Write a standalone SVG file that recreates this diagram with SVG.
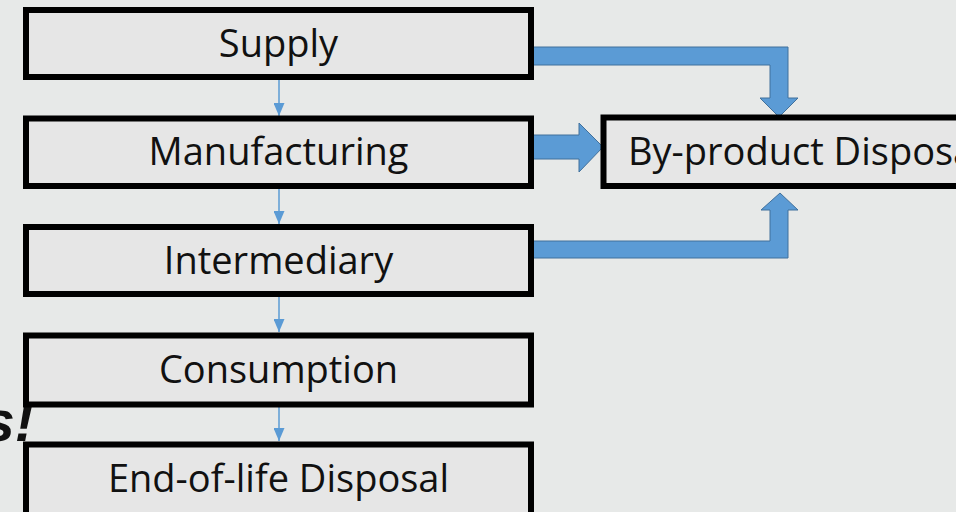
<svg xmlns="http://www.w3.org/2000/svg" width="956" height="512" viewBox="0 0 956 512">
<defs>
<style>
.box{fill:#E6E6E6;stroke:#000;stroke-width:6}
.lbl{font-family:"Open Sans","Noto Sans","Liberation Sans",sans-serif;font-size:38px;fill:#111}
.thin{stroke:#5B9BD5;stroke-width:1.5;fill:none}
.block{fill:#5B9BD5;stroke:#41719C;stroke-width:1}
</style>
<marker id="ah2" viewBox="0 0 13 11" refX="13" refY="5.5" markerWidth="13" markerHeight="11" markerUnits="userSpaceOnUse" orient="auto">
<path d="M0,0 L13,5.5 L0,11 Z" fill="#5B9BD5"/>
</marker>
</defs>
<rect x="0" y="0" width="956" height="512" fill="#E7E9E8"/>
<text x="34" y="441" text-anchor="end" font-family="Liberation Sans,Arial,sans-serif" font-size="58" font-weight="bold" font-style="italic" fill="#111">s!</text>
<g id="connectors">
<line class="thin" x1="279" y1="80" x2="279" y2="116" marker-end="url(#ah2)"/>
<line class="thin" x1="279" y1="189" x2="279" y2="224" marker-end="url(#ah2)"/>
<line class="thin" x1="279" y1="296" x2="279" y2="332" marker-end="url(#ah2)"/>
<line class="thin" x1="279" y1="407" x2="279" y2="441" marker-end="url(#ah2)"/>
<path class="block" d="M533,47 L788,47 L788,98 L798,98 L779,117 L760,98 L770,98 L770,65 L533,65 Z"/>
<path class="block" d="M532,135 L579,135 L579,123 L603,147 L579,172 L579,159 L532,159 Z"/>
<path class="block" d="M533,241 L770,241 L770,210 L761,210 L780,193 L798,210 L788,210 L788,258 L533,258 Z"/>
</g>
<g id="supply"><rect class="box" x="26" y="10" width="505" height="67"/><text class="lbl" x="278.5" y="56.5" text-anchor="middle">Supply</text></g>
<g id="manufacturing"><rect class="box" x="26" y="118.5" width="505" height="67.5"/><text class="lbl" x="278.5" y="165" text-anchor="middle">Manufacturing</text></g>
<g id="intermediary"><rect class="box" x="26" y="227" width="505" height="67"/><text class="lbl" x="278.5" y="273.5" text-anchor="middle">Intermediary</text></g>
<g id="consumption"><rect class="box" x="26" y="335.5" width="505" height="69"/><text class="lbl" x="278.5" y="383" text-anchor="middle">Consumption</text></g>
<g id="eol"><rect class="box" x="26" y="444.5" width="505" height="80"/><text class="lbl" x="278.5" y="492" text-anchor="middle">End-of-life Disposal</text></g>
<g id="byproduct"><rect class="box" x="603.5" y="117.5" width="400" height="68.5"/><text class="lbl" x="628" y="165">By-product Disposal</text></g>
</svg>
